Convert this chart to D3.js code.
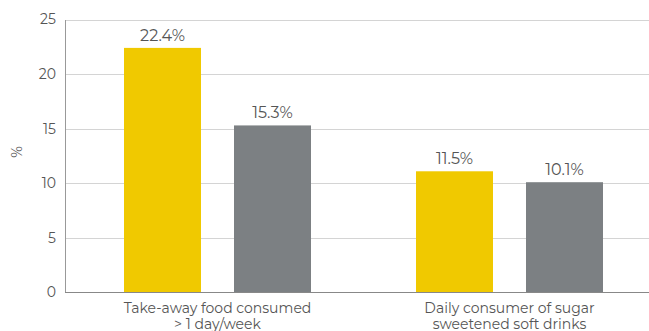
<!DOCTYPE html>
<html><head><meta charset="utf-8">
<script src="https://cdn.jsdelivr.net/npm/d3@7"></script>
<style>body{margin:0;background:#fff}svg{display:block}</style>
</head><body><svg id="c" width="649" height="331"></svg>
<script>
const categories = [["Take-away food consumed", "> 1 day/week"], ["Daily consumer of sugar", "sweetened soft drinks"]];
const seriesNames = ["A", "B"];
const seriesA = [22.4, 11.1];
const seriesB = [15.3, 10.1];
const labelsA = ["22.4%", "11.5%"];
const labelsB = ["15.3%", "10.1%"];
const yTicks = [0, 5, 10, 15, 20, 25];
const colors = ["#F0C900", "#7C8083"];

const svg = d3.select("#c");
const mLeft = 65, mRight = 649, mTop = 19.5, mBottom = 292.5;
const y = d3.scaleLinear().domain([0, 25]).range([mBottom, mTop]);
const catIdx = categories.map((c, i) => i);
const x0 = d3.scaleBand().domain(catIdx).range([71.5, 655.5]);
const x1 = d3.scaleBand().domain(seriesNames).range([x0.bandwidth()/2 - 110, x0.bandwidth()/2 + 110]).paddingInner(0.3).paddingOuter(0.15);
const font = "'Montserrat','Lato','Open Sans',sans-serif";

// gridlines
svg.append("g").selectAll("line").data(yTicks.filter(t => t > 0)).join("line")
  .attr("x1", mLeft).attr("x2", mRight).attr("y1", d => Math.round(y(d)) + 0.5).attr("y2", d => Math.round(y(d)) + 0.5)
  .attr("stroke", "#d4d4d4").attr("stroke-width", 1);

// bars
const data = [seriesA, seriesB];
const labels = [labelsA, labelsB];
catIdx.forEach(ci => {
  const g = svg.append("g").attr("transform", `translate(${x0(ci)},0)`);
  seriesNames.forEach((s, si) => {
    g.append("rect").attr("x", x1(s)).attr("width", x1.bandwidth())
      .attr("y", y(data[si][ci])).attr("height", mBottom - y(data[si][ci]))
      .attr("fill", colors[si]);
    g.append("text").attr("x", x1(s) + x1.bandwidth()/2).attr("y", y(data[si][ci]) - 7)
      .attr("text-anchor", "middle").attr("font-family", font).attr("font-size", 16)
      .attr("fill", "#555").text(labels[si][ci]);
  });
  const t = g.append("text").attr("text-anchor", "middle").attr("font-family", font)
    .attr("font-size", 14).attr("fill", "#555");
  categories[ci].forEach((line, li) => {
    t.append("tspan").attr("x", x0.bandwidth()/2).attr("y", 313 + li * 16).text(line);
  });
});

// axes
const yAxis = d3.axisLeft(y).tickValues(yTicks).tickSize(0).tickPadding(9);
const ga = svg.append("g").attr("transform", `translate(${mLeft},0)`).call(yAxis);
ga.select(".domain").attr("stroke", "#999");
ga.selectAll("text").attr("font-family", font).attr("font-size", 14).attr("fill", "#555");
svg.append("line").attr("x1", mLeft).attr("x2", mRight).attr("y1", mBottom).attr("y2", mBottom)
  .attr("stroke", "#888").attr("stroke-width", 1);

svg.append("text").attr("transform", "translate(22,152) rotate(-90)").attr("text-anchor", "middle")
  .attr("font-family", font).attr("font-size", 14).attr("fill", "#555").text("%");
</script></body></html>
